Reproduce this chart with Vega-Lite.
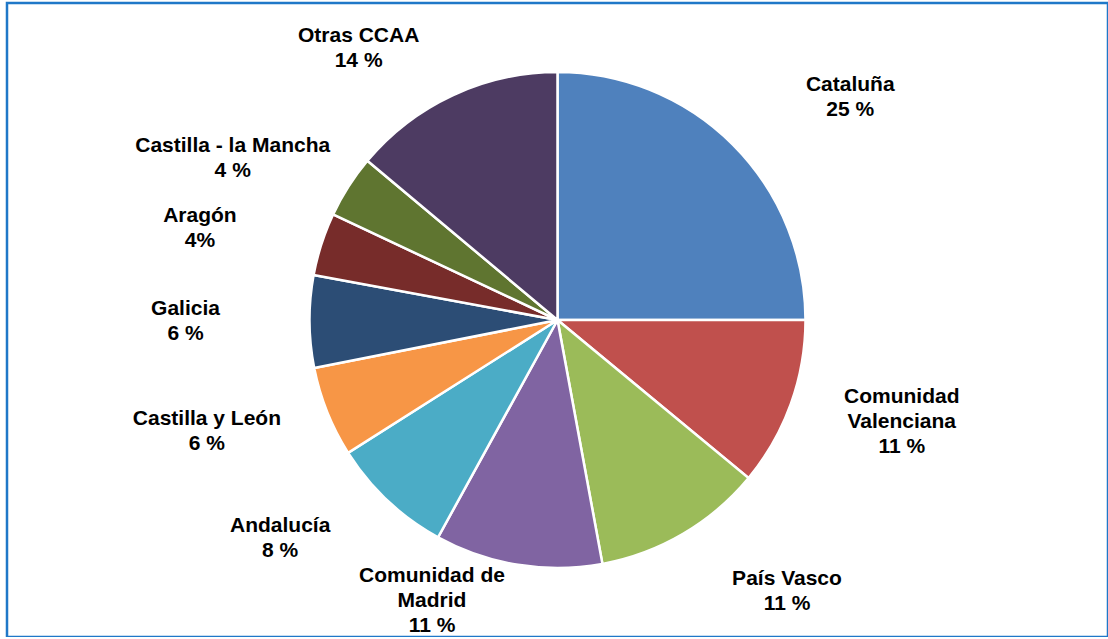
{
  "$schema": "https://vega.github.io/schema/vega-lite/v6.json",
  "autosize": "none",
  "width": 1101,
  "height": 634,
  "padding": {"left": 7, "top": 3, "right": 0, "bottom": 0},
  "background": "white",
  "view": {"stroke": "#1f78c8", "strokeWidth": 2.5, "fill": "white"},
  "data": {
    "values": [
      {"rank": 1, "region": "Cataluña", "value": 25, "label": "Cataluña\n25 %"},
      {"rank": 2, "region": "Comunidad Valenciana", "value": 11, "label": "Comunidad\nValenciana\n11 %"},
      {"rank": 3, "region": "País Vasco", "value": 11.1, "label": "País Vasco\n11 %"},
      {"rank": 4, "region": "Comunidad de Madrid", "value": 10.9, "label": "Comunidad de\nMadrid\n11 %"},
      {"rank": 5, "region": "Andalucía", "value": 8, "label": "Andalucía\n8 %"},
      {"rank": 6, "region": "Castilla y León", "value": 5.9, "label": "Castilla y León\n6 %"},
      {"rank": 7, "region": "Galicia", "value": 6, "label": "Galicia\n6 %"},
      {"rank": 8, "region": "Aragón", "value": 4.1, "label": "Aragón\n4%"},
      {"rank": 9, "region": "Castilla - la Mancha", "value": 4.1, "label": "Castilla - la Mancha\n4 %"},
      {"rank": 10, "region": "Otras CCAA", "value": 13.9, "label": "Otras CCAA\n14 %"}
    ]
  },
  "encoding": {
    "theta": {"field": "value", "type": "quantitative", "stack": true},
    "order": {"field": "rank", "type": "quantitative"}
  },
  "layer": [
    {
      "mark": {"type": "arc", "outerRadius": 248, "stroke": "white", "strokeWidth": 2.5},
      "encoding": {
        "color": {
          "field": "region",
          "type": "nominal",
          "legend": null,
          "scale": {
            "domain": ["Cataluña", "Comunidad Valenciana", "País Vasco", "Comunidad de Madrid", "Andalucía", "Castilla y León", "Galicia", "Aragón", "Castilla - la Mancha", "Otras CCAA"],
            "range": ["#4F81BD", "#C0504D", "#9BBB59", "#8064A2", "#4BACC6", "#F79646", "#2C4D75", "#772C2A", "#5F7530", "#4D3B62"]
          }
        }
      }
    },
    {
      "mark": {"type": "text", "radius": 315, "dx": 70, "dy": -12.5, "align": "center", "baseline": "middle", "font": "Liberation Sans", "fontWeight": "bold", "fontSize": 21, "lineHeight": 25, "lineBreak": "\n", "color": "black"},
      "encoding": {
        "text": {
          "condition": {"test": "datum.rank === 1 || datum.rank === 3", "field": "label", "type": "nominal"},
          "value": ""
        }
      }
    },
    {
      "mark": {"type": "text", "radius": 300, "dx": 62, "dy": -25, "align": "center", "baseline": "middle", "font": "Liberation Sans", "fontWeight": "bold", "fontSize": 21, "lineHeight": 25, "lineBreak": "\n", "color": "black"},
      "encoding": {
        "text": {
          "condition": {"test": "datum.rank === 2", "field": "label", "type": "nominal"},
          "value": ""
        }
      }
    },
    {
      "mark": {"type": "text", "radius": 300, "dx": -72, "dy": -12.5, "align": "center", "baseline": "middle", "font": "Liberation Sans", "fontWeight": "bold", "fontSize": 21, "lineHeight": 25, "lineBreak": "\n", "color": "black"},
      "encoding": {
        "text": {
          "condition": {"test": "datum.rank >= 5", "field": "label", "type": "nominal"},
          "value": ""
        }
      }
    },
    {
      "mark": {"type": "text", "radius": 285, "dx": -80, "dy": -25, "align": "center", "baseline": "middle", "font": "Liberation Sans", "fontWeight": "bold", "fontSize": 21, "lineHeight": 25, "lineBreak": "\n", "color": "black"},
      "encoding": {
        "text": {
          "condition": {"test": "datum.rank === 4", "field": "label", "type": "nominal"},
          "value": ""
        }
      }
    }
  ]
}
